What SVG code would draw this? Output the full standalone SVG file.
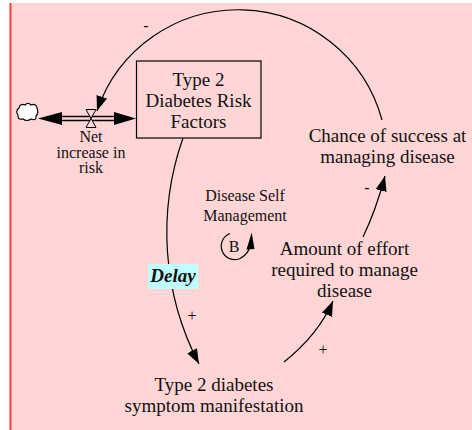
<svg xmlns="http://www.w3.org/2000/svg" width="472" height="430" viewBox="0 0 472 430">
<defs>
<marker id="ah" markerUnits="userSpaceOnUse" markerWidth="16" markerHeight="11" refX="15" refY="5.5" orient="auto">
<path d="M0,0 L15,5.5 L0,11 z" fill="#000"/>
</marker>
</defs>
<style>
text{font-family:"Liberation Serif","Times New Roman",serif;fill:#111;text-anchor:middle}
.big{font-size:19px}
.mid{font-size:16px}
.con{fill:none;stroke:#000;stroke-width:1.2}
</style>
<rect x="10" y="3" width="462" height="427" fill="#ffd5d5"/>
<line x1="10.5" y1="3" x2="10.5" y2="430" stroke="#ff3a3a" stroke-width="2"/>

<g id="connectors">
<path class="con" d="M 382 120 A 149 149 0 0 0 97 111" marker-end="url(#ah)"/>
<path class="con" d="M 183 138 A 284.5 284.5 0 0 0 199 364" marker-end="url(#ah)"/>
<path class="con" d="M 284 362 Q 318 335 333 301" marker-end="url(#ah)"/>
<path class="con" d="M 363 237 Q 376 210 385 176" marker-end="url(#ah)"/>
<text class="mid" x="146" y="31">-</text>
<text class="mid" x="192" y="321">+</text>
<text class="mid" x="323" y="355">+</text>
<text class="mid" x="367" y="193">-</text>
</g>

<g id="flow">
<line x1="55" y1="116.5" x2="120" y2="116.5" stroke="#000" stroke-width="1.3"/>
<line x1="55" y1="120.5" x2="120" y2="120.5" stroke="#000" stroke-width="1.3"/>
<polygon points="38,118.5 62,112 62,125" fill="#000"/>
<polygon points="136,118.5 114,112 114,125" fill="#000"/>
<path d="M86,109.5 L96,109.5 L86,127.5 L96,127.5 z" fill="#ffd5d5" stroke="#000" stroke-width="1"/>
<text class="mid" x="91" y="142">Net</text>
<text class="mid" x="91" y="157.5">increase in</text>
<text class="mid" x="91" y="173">risk</text>
</g>

<g id="cloud">
<path d="M19,108 Q20,103 25,105 Q28,102 31,105 Q36,103 37,108 Q39,113 36,116 Q37,121 31,119 Q27,122 23,119 Q17,120 18,115 Q15,111 19,108 z" fill="#fff" stroke="#000" stroke-width="1.2"/>
</g>

<g id="risk-factors">
<rect x="136.5" y="61" width="124.5" height="77" fill="none" stroke="#000" stroke-width="1.2"/>
<text class="big" x="198.5" y="86">Type 2</text>
<text class="big" x="198.5" y="107">Diabetes Risk</text>
<text class="big" x="198.5" y="128">Factors</text>
</g>

<g id="chance">
<text class="big" x="387.5" y="142">Chance of success at</text>
<text class="big" x="387.5" y="163">managing disease</text>
</g>

<g id="effort">
<text class="big" x="344.5" y="255">Amount of effort</text>
<text class="big" x="344.5" y="276">required to manage</text>
<text class="big" x="344.5" y="297">disease</text>
</g>

<g id="symptom">
<text class="big" x="214" y="391">Type 2 diabetes</text>
<text class="big" x="214" y="412">symptom manifestation</text>
</g>

<g id="delay">
<rect x="148" y="264" width="50" height="25" fill="#c0ffff"/>
<text x="173" y="282" style="font-size:19px;font-weight:bold;font-style:italic">Delay</text>
</g>

<g id="loop">
<text class="mid" x="245" y="201">Disease Self</text>
<text class="mid" x="245" y="220.5">Management</text>
<path d="M 229.9 233.5 A 13.5 13.5 0 1 0 239.6 258.7 Q 247 255 249.5 248" fill="none" stroke="#000" stroke-width="1.2"/>
<polygon points="251.7,232.5 246.5,249.5 254.5,249" fill="#000"/>
<text class="mid" x="234" y="251.5">B</text>
</g>
</svg>
